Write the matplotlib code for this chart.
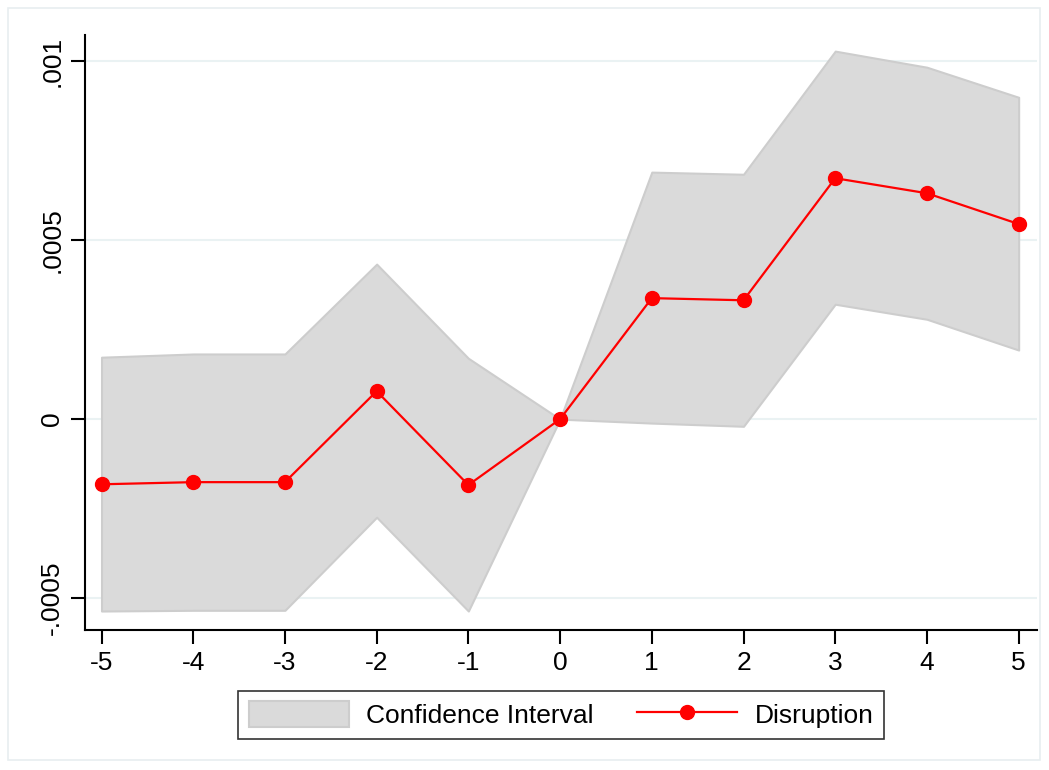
import matplotlib.pyplot as plt
from matplotlib.patches import Rectangle

plt.rcParams['font.family'] = ['Liberation Sans', 'DejaVu Sans']
plt.rcParams['axes.unicode_minus'] = False

# event time
periodo = [-5, -4, -3, -2, -1, 0, 1, 2, 3, 4, 5]
# point estimates
coef = [-0.000182, -0.000176, -0.000176, 0.000078, -0.000184, 0.0,
        0.000338, 0.000332, 0.000673, 0.000631, 0.000545]
# confidence interval bounds
ic_sup = [0.000173, 0.000182, 0.000182, 0.000433, 0.000170, 0.0,
          0.000690, 0.000684, 0.001028, 0.000983, 0.000899]
ic_inf = [-0.000536, -0.000534, -0.000534, -0.000274, -0.000536, 0.0,
          -0.000011, -0.000020, 0.000321, 0.000279, 0.000193]

y_ticks = [-0.0005, 0, 0.0005, 0.001]
y_labels = ['-.0005', '0', '.0005', '.001']

fig = plt.figure(figsize=(10.49, 7.70), dpi=100)
ax = fig.add_axes([85 / 1049, 1 - 630 / 770, (1037 - 85) / 1049, (630 - 35) / 770])

# faint outer frame (stata style)
fig.patches.append(Rectangle((8 / 1049, 10 / 770), 1032 / 1049, 752 / 770,
                             transform=fig.transFigure, fill=False,
                             edgecolor='#E8EEF0', lw=1.2))

ax.fill_between(periodo, ic_inf, ic_sup, facecolor='#DADADA',
                edgecolor='#CDCDCD', lw=1.5, label='Confidence Interval', zorder=2)
ax.plot(periodo, coef, '-o', color='red', lw=1.6, ms=10, label='Disruption', zorder=3)

ax.set_xlim(-5.18, 5.2)
ax.set_ylim(-0.000589, 0.001073)
ax.set_xticks(periodo)
ax.set_yticks(y_ticks)
ax.set_yticklabels(y_labels, rotation=90, va='center')
ax.grid(axis='y', color='#EAF2F3', lw=1.5, zorder=0)
ax.set_axisbelow(True)

for lado in ['top', 'right']:
    ax.spines[lado].set_visible(False)
for lado in ['left', 'bottom']:
    ax.spines[lado].set_linewidth(1.5)
ax.tick_params(axis='both', labelsize=19, length=10, width=1.5, pad=5)

leg = ax.legend(loc='upper center', bbox_to_anchor=(0.5, -0.08), ncol=2,
                fontsize=19, frameon=True, fancybox=False, edgecolor='black',
                handlelength=3.8, handleheight=1.1, columnspacing=1.65,
                borderpad=0.4, handletextpad=0.65)
leg.get_frame().set_linewidth(1.2)

fig.savefig('out.png', dpi=100, facecolor='white')
